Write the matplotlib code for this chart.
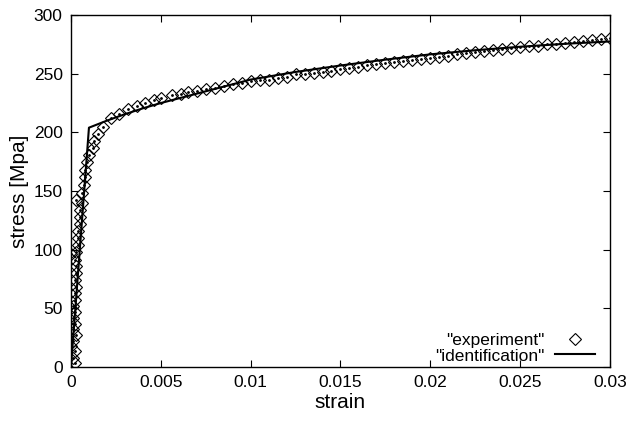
#!/usr/bin/env python3
"""Stress-strain curve: experimental points vs. identified model (gnuplot look)."""

import matplotlib
matplotlib.use("Agg")
import matplotlib.pyplot as plt
from matplotlib.ticker import FormatStrFormatter, MultipleLocator

plt.rcParams["font.family"] = ["Liberation Sans", "DejaVu Sans"]

# experiment (strain [-], stress [MPa])
exp_strain = [
    0.0002, 0.0001, 0.0002, 0.0, 0.0001, 0.0003, 0.0001, 0.0002, 0.0001, 0.0002,
    0.0001, 0.0002, 0.0002, 0.0003, 0.0002, 0.0003, 0.0003, 0.0002, 0.0, 0.0003,
    0.0004, 0.0004, 0.0004, 0.0005, 0.0005, 0.0005, 0.0003, 0.0006, 0.0006, 0.0007,
    0.0008, 0.0008, 0.0009, 0.0010, 0.0012, 0.0013, 0.0015, 0.0018, 0.0022, 0.0027,
    0.0032, 0.0037, 0.0041, 0.0046, 0.0050, 0.0056, 0.0061, 0.0065, 0.0070, 0.0075,
    0.0080, 0.0085, 0.0090, 0.0095, 0.0100, 0.0105, 0.0110, 0.0115, 0.0120, 0.0125,
    0.0130, 0.0135, 0.0140, 0.0145, 0.0150, 0.0155, 0.0160, 0.0165, 0.0170, 0.0175,
    0.0180, 0.0185, 0.0190, 0.0195, 0.0200, 0.0205, 0.0210, 0.0215, 0.0220, 0.0225,
    0.0230, 0.0235, 0.0240, 0.0245, 0.0250, 0.0255, 0.0260, 0.0265, 0.0270, 0.0275,
    0.0280, 0.0285, 0.0290, 0.0295, 0.0300,
]
exp_stress = [
    3, 8, 14, 18, 22, 27, 32, 37, 42, 47,
    52, 57, 63, 68, 74, 80, 86, 91, 96, 98,
    104, 110, 116, 122, 128, 134, 142, 140, 148, 155,
    162, 168, 175, 181, 187, 193, 199, 205, 212, 216,
    220, 222.5, 225, 227.5, 229.5, 231.5, 233, 234.5, 235.5, 237,
    238, 239.5, 241, 242.5, 243.5, 244.5, 245, 246, 247, 249.5,
    250, 250.5, 251.5, 252.5, 254, 255, 256, 257.5, 258, 259.5,
    260, 261, 262, 262.5, 263.5, 264.5, 265.5, 266.5, 267.5, 268.5,
    269.5, 270.5, 271, 272, 272.5, 273.5, 273.5, 275, 275.5, 276.5,
    277, 278, 278.5, 279.5, 280.5,
]

# identified model
fit_strain = [0, 0.001, 0.002, 0.003, 0.004, 0.005, 0.006, 0.0075, 0.01,
              0.0125, 0.015, 0.0175, 0.02, 0.0225, 0.025, 0.0275, 0.03]
fit_stress = [0, 204, 210, 215.5, 220.5, 225, 229, 235, 245,
              251.5, 257, 262, 266.5, 270, 273, 275.5, 277.5]

fig = plt.figure(figsize=(6.26, 4.23), dpi=100)
ax = fig.add_axes([0.1134, 0.1324, 0.861, 0.832])

ax.plot(exp_strain, exp_stress, ls="none", marker="D", ms=6, mfc="none",
        mec="black", mew=0.8, label='"experiment"')
ax.plot(exp_strain, exp_stress, ls="none", marker="o", ms=1.0, color="black")
ax.plot(fit_strain, fit_stress, color="black", lw=1.5, label='"identification"')

ax.set_xlim(0, 0.03)
ax.set_ylim(0, 300)
ax.xaxis.set_major_locator(MultipleLocator(0.005))
ax.yaxis.set_major_locator(MultipleLocator(50))
ax.xaxis.set_major_formatter(FormatStrFormatter("%g"))
ax.tick_params(direction="in", top=True, right=True, length=5, width=0.8,
               labelsize=12.5, pad=6)
for sp in ax.spines.values():
    sp.set_linewidth(1.0)

ax.set_xlabel("strain", fontsize=15, labelpad=2)
ax.set_ylabel("stress [Mpa]", fontsize=15, labelpad=3)

ax.legend(loc="lower right", frameon=False, markerfirst=False, fontsize=12.5,
          handlelength=2.3, handletextpad=0.6, labelspacing=0.0,
          borderaxespad=0.0, bbox_to_anchor=(0.985, -0.01))

fig.savefig("out.png", dpi=100)
